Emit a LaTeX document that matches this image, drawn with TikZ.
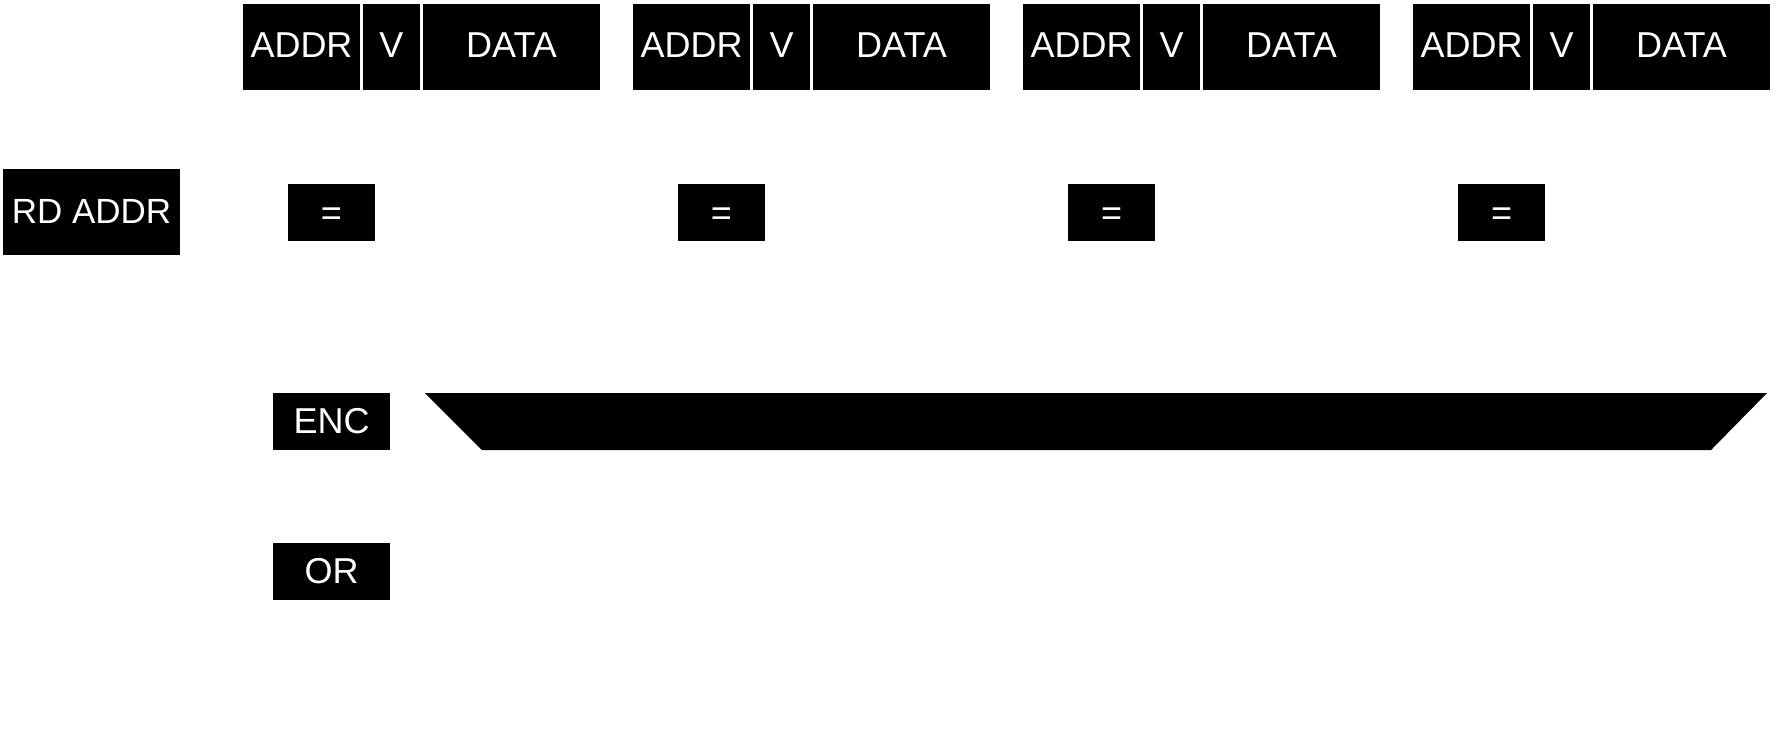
\documentclass[tikz,border=0pt]{standalone}
\usepackage{fontspec}
\setmainfont{Liberation Sans}
\begin{document}
\begin{tikzpicture}[x=1pt,y=-1pt,
  blk/.style={fill=black,text=white,inner sep=0pt,outer sep=0pt,anchor=north west,
    font=\fontsize{36}{40}\selectfont,text height=22pt,text depth=0pt},
  tall/.style={blk,minimum height=86pt},
  short/.style={blk,minimum height=57pt},
  eqbox/.style={short,minimum width=87pt,text height=26pt,text depth=0pt}]
\useasboundingbox (0,0) rectangle (1776,747);
\foreach \i in {0,1,2,3}{
  \node[tall,minimum width=117pt] (addr\i) at ({243+390*\i},3.5) {ADDR};
  \node[tall,minimum width=57pt] (v\i) at ({363+390*\i},3.5) {V};
  \node[tall,minimum width=177pt] (data\i) at ({423+390*\i},3.5) {DATA};
  \node[eqbox] (eq\i) at ({288+390*\i},183.5) {=};
}
\node[tall,minimum width=177pt,font=\fontsize{35}{40}\selectfont] (rd) at (3,169) {RD ADDR};
\node[short,minimum width=117pt,text height=24pt] (enc) at (273,393) {ENC};
\node[short,minimum width=117pt,text height=24pt] (or) at (273,543) {OR};
\fill[black] (425,393) -- (1767,393) -- (1711,450) -- (482,450) -- cycle;
\end{tikzpicture}
\end{document}
